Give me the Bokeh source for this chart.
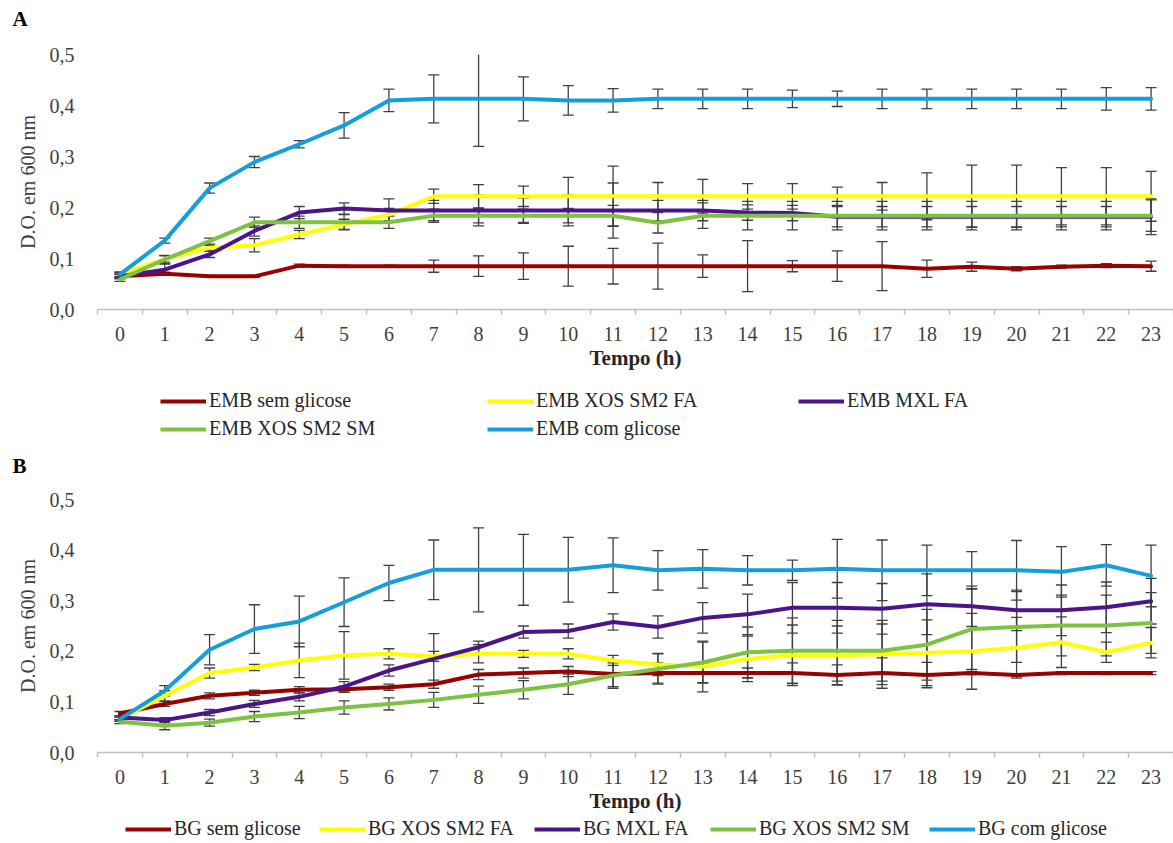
import numpy as np
from bokeh.plotting import figure
from bokeh.models import (ColumnDataSource, Whisker, TeeHead, FixedTicker, Legend,
                          LegendItem, Label, Range1d)
from bokeh.layouts import column
from bokeh.embed import file_html
from bokeh.resources import INLINE

# ---- data -------------------------------------------------------------
hours = list(range(24))
x_tick_labels = [str(h) for h in hours]
y_ticks = [0.0, 0.1, 0.2, 0.3, 0.4, 0.5]
y_tick_labels = ["0,0", "0,1", "0,2", "0,3", "0,4", "0,5"]

# Panel A: EMB medium
emb_names = ["EMB sem glicose", "EMB XOS SM2 FA", "EMB MXL FA", "EMB XOS SM2 SM", "EMB com glicose"]
emb_sem = [0.065, 0.070, 0.065, 0.065, 0.086, 0.085, 0.085, 0.085, 0.085, 0.085, 0.085, 0.085,
           0.085, 0.085, 0.085, 0.085, 0.085, 0.085, 0.080, 0.084, 0.080, 0.084, 0.086, 0.085]
emb_sem_err = [0.004, 0.003, 0.002, 0.002, 0.003, 0.002, 0.002, 0.012, 0.020, 0.026, 0.039, 0.035,
               0.045, 0.022, 0.050, 0.011, 0.030, 0.048, 0.017, 0.009, 0.004, 0.003, 0.004, 0.010]
emb_xos_fa = [0.068, 0.099, 0.121, 0.126, 0.147, 0.167, 0.186, 0.222, 0.222, 0.222, 0.222, 0.222,
              0.222, 0.222, 0.222, 0.222, 0.222, 0.222, 0.222, 0.222, 0.222, 0.222, 0.222, 0.222]
emb_xos_fa_err = [0.005, 0.006, 0.005, 0.013, 0.008, 0.010, 0.012, 0.014, 0.023, 0.020, 0.037, 0.059,
                  0.027, 0.033, 0.025, 0.025, 0.018, 0.027, 0.046, 0.061, 0.061, 0.056, 0.056, 0.049]
emb_mxl = [0.065, 0.078, 0.108, 0.154, 0.190, 0.198, 0.194, 0.194, 0.194, 0.194, 0.194, 0.194,
           0.194, 0.194, 0.190, 0.189, 0.182, 0.182, 0.182, 0.182, 0.182, 0.182, 0.182, 0.182]
emb_mxl_err = [0.005, 0.011, 0.006, 0.010, 0.012, 0.011, 0.023, 0.020, 0.030, 0.025, 0.030, 0.054,
               0.020, 0.020, 0.015, 0.015, 0.020, 0.020, 0.020, 0.020, 0.020, 0.020, 0.020, 0.035]
emb_xos_sm = [0.059, 0.098, 0.134, 0.171, 0.171, 0.171, 0.171, 0.184, 0.184, 0.184, 0.184, 0.184,
              0.170, 0.184, 0.184, 0.184, 0.184, 0.184, 0.184, 0.184, 0.184, 0.184, 0.184, 0.184]
emb_xos_sm_err = [0.004, 0.008, 0.006, 0.010, 0.012, 0.015, 0.012, 0.013, 0.014, 0.013, 0.014, 0.020,
                  0.020, 0.025, 0.028, 0.028, 0.028, 0.028, 0.028, 0.028, 0.028, 0.028, 0.028, 0.031]
emb_com = [0.069, 0.135, 0.238, 0.289, 0.324, 0.361, 0.410, 0.413, 0.413, 0.413, 0.410, 0.410,
           0.413, 0.413, 0.413, 0.413, 0.413, 0.413, 0.413, 0.413, 0.413, 0.413, 0.413, 0.413]
emb_com_err = [0.004, 0.005, 0.010, 0.011, 0.007, 0.025, 0.022, 0.047, 0.093, 0.043, 0.029, 0.023,
               0.019, 0.019, 0.019, 0.017, 0.015, 0.019, 0.019, 0.019, 0.019, 0.019, 0.022, 0.022]

# Panel B: BG medium
bg_names = ["BG sem glicose", "BG XOS SM2 FA", "BG MXL FA", "BG XOS SM2 SM", "BG com glicose"]
bg_sem = [0.077, 0.096, 0.112, 0.118, 0.124, 0.125, 0.129, 0.135, 0.154, 0.157, 0.160, 0.155,
          0.157, 0.157, 0.157, 0.157, 0.153, 0.157, 0.153, 0.157, 0.153, 0.157, 0.157, 0.157]
bg_sem_err = [0.004, 0.005, 0.006, 0.005, 0.006, 0.006, 0.006, 0.008, 0.010, 0.010, 0.010, 0.025,
              0.020, 0.020, 0.010, 0.020, 0.020, 0.030, 0.025, 0.003, 0.003, 0.003, 0.003, 0.003]
bg_xos_fa = [0.066, 0.112, 0.157, 0.168, 0.182, 0.192, 0.195, 0.190, 0.195, 0.195, 0.195, 0.182,
             0.174, 0.170, 0.185, 0.192, 0.192, 0.194, 0.197, 0.200, 0.207, 0.218, 0.198, 0.217]
bg_xos_fa_err = [0.004, 0.010, 0.010, 0.006, 0.034, 0.047, 0.010, 0.010, 0.018, 0.007, 0.010, 0.010,
                 0.022, 0.050, 0.045, 0.060, 0.058, 0.060, 0.065, 0.075, 0.060, 0.050, 0.020, 0.030]
bg_mxl = [0.069, 0.064, 0.079, 0.096, 0.110, 0.130, 0.162, 0.185, 0.208, 0.238, 0.240, 0.258,
          0.248, 0.266, 0.273, 0.286, 0.286, 0.284, 0.293, 0.289, 0.281, 0.281, 0.287, 0.299]
bg_mxl_err = [0.004, 0.005, 0.006, 0.007, 0.008, 0.010, 0.011, 0.050, 0.012, 0.012, 0.014, 0.016,
              0.022, 0.030, 0.040, 0.050, 0.050, 0.050, 0.060, 0.040, 0.040, 0.050, 0.050, 0.045]
bg_xos_sm = [0.061, 0.053, 0.059, 0.071, 0.079, 0.089, 0.096, 0.104, 0.114, 0.124, 0.135, 0.152,
             0.165, 0.178, 0.198, 0.201, 0.201, 0.201, 0.213, 0.244, 0.248, 0.251, 0.251, 0.256]
bg_xos_sm_err = [0.004, 0.008, 0.007, 0.010, 0.012, 0.013, 0.012, 0.015, 0.017, 0.018, 0.020, 0.025,
                 0.030, 0.040, 0.050, 0.065, 0.060, 0.060, 0.070, 0.080, 0.070, 0.060, 0.060, 0.060]
bg_com = [0.066, 0.122, 0.203, 0.244, 0.259, 0.297, 0.335, 0.361, 0.361, 0.361, 0.361, 0.370,
          0.360, 0.363, 0.360, 0.360, 0.363, 0.360, 0.360, 0.360, 0.360, 0.357, 0.370, 0.349]
bg_com_err = [0.004, 0.010, 0.030, 0.048, 0.050, 0.048, 0.035, 0.059, 0.083, 0.070, 0.064, 0.054,
              0.039, 0.038, 0.029, 0.020, 0.058, 0.060, 0.050, 0.037, 0.059, 0.050, 0.041, 0.061]

colors = ["#990000", "#FFFF00", "#4B148A", "#7DC242", "#149EDA"]

# ---- styling ----------------------------------------------------------
FONT = "Liberation Serif"
W = 1173
LEFT = 97
KEY_H = 22  # height of one legend entry


def panel(height, top, frame_h):
    p = figure(width=W, height=height, output_backend="svg", toolbar_location=None,
               title=None, x_range=Range1d(-0.5, 23.5), y_range=Range1d(0, 0.5),
               min_border_left=LEFT, min_border_right=0, min_border_top=top,
               min_border_bottom=height - top - frame_h)
    p.outline_line_color = None
    p.grid.visible = False

    # x axis: labels on the hours, small ticks between categories
    xa = p.xaxis[0]
    xa.ticker = FixedTicker(ticks=hours, minor_ticks=[h - 0.5 for h in hours] + [23.5])
    xa.major_label_overrides = {h: lab for h, lab in zip(hours, x_tick_labels)}
    xa.axis_line_color = "#BFBFBF"
    xa.axis_line_width = 1.5
    xa.major_tick_out = 0
    xa.major_tick_in = 0
    xa.minor_tick_out = 5
    xa.minor_tick_in = 0
    xa.minor_tick_line_color = "#BFBFBF"
    xa.minor_tick_line_width = 1.5
    xa.major_label_standoff = 12
    xa.major_label_text_font = FONT
    xa.major_label_text_font_size = "20px"
    xa.major_label_text_color = "#404040"
    xa.axis_label = "Tempo (h)"
    xa.axis_label_text_font = FONT
    xa.axis_label_text_font_size = "21px"
    xa.axis_label_text_font_style = "bold"
    xa.axis_label_text_color = "#262626"
    xa.axis_label_standoff = 2

    # y axis: no line, comma decimal labels
    ya = p.yaxis[0]
    ya.ticker = FixedTicker(ticks=y_ticks)
    ya.major_label_overrides = {t: lab for t, lab in zip(y_ticks, y_tick_labels)}
    ya.axis_line_color = None
    ya.major_tick_line_color = None
    ya.minor_tick_line_color = None
    ya.major_label_standoff = 17
    ya.major_label_text_font = FONT
    ya.major_label_text_font_size = "20px"
    ya.major_label_text_color = "#404040"
    ya.axis_label = "D.O. em 600 nm"
    ya.axis_label_text_font = FONT
    ya.axis_label_text_font_size = "20px"
    ya.axis_label_text_font_style = "normal"
    ya.axis_label_text_color = "#404040"
    ya.axis_label_standoff = 8
    return p


def draw_series(p, series, errors):
    for vals, errs, col in zip(series, errors, colors):
        src = ColumnDataSource(dict(x=hours, y=vals,
                                    upper=[v + e for v, e in zip(vals, errs)],
                                    lower=[v - e for v, e in zip(vals, errs)]))
        p.line("x", "y", source=src, line_color=col, line_width=4,
               line_join="round", line_cap="round")
        p.add_layout(Whisker(base="x", upper="upper", lower="lower", source=src,
                             line_color="#404040", line_width=1.3,
                             upper_head=TeeHead(size=11, line_color="#404040", line_width=1.3),
                             lower_head=TeeHead(size=11, line_color="#404040", line_width=1.3)))


def strip(height):
    # plain band (no axes) holding panel letters and legend keys
    f = figure(width=W, height=height, output_backend="svg", toolbar_location=None,
               title=None, x_range=Range1d(0, W), y_range=Range1d(0, height),
               min_border=0, x_axis_location=None, y_axis_location=None,
               frame_align=False)
    f.outline_line_color = None
    f.grid.visible = False
    return f


def add_letter(f, text, yc):
    f.add_layout(Label(x=12, y=f.height - yc, x_units="screen", y_units="screen",
                       text=text, text_font=FONT, text_font_size="21px",
                       text_font_style="bold", text_color="black",
                       text_align="left", text_baseline="middle"))


def add_key(f, name, color, x, yc):
    # swatch renderer with a single undefined point: shows only in the legend
    r = f.line(x=np.array([0.0]), y=np.array([np.nan]), line_color=color, line_width=4)
    f.add_layout(Legend(items=[LegendItem(label=name, renderers=[r])],
                        location=(x, f.height - yc - KEY_H / 2),
                        orientation="vertical", padding=0, margin=0, spacing=0,
                        glyph_width=46, glyph_height=KEY_H, label_height=KEY_H,
                        label_standoff=3, label_text_font=FONT,
                        label_text_font_size="20px", label_text_color="#262626",
                        border_line_color=None, background_fill_alpha=0))


emb_series = [emb_sem, emb_xos_fa, emb_mxl, emb_xos_sm, emb_com]
emb_errors = [emb_sem_err, emb_xos_fa_err, emb_mxl_err, emb_xos_sm_err, emb_com_err]
bg_series = [bg_sem, bg_xos_fa, bg_mxl, bg_xos_sm, bg_com]
bg_errors = [bg_sem_err, bg_xos_fa_err, bg_mxl_err, bg_xos_sm_err, bg_com_err]

# top band with letter A
head_a = strip(36)
add_letter(head_a, "A", 18)

# panel A
fig_a = panel(344, 18, 255)
draw_series(fig_a, emb_series, emb_errors)

# band with the EMB legend (3 + 2 entries) and the letter B
mid = strip(96)
emb_key_pos = [(160, 21), (487, 21), (798, 21), (160, 49), (487, 49)]
for name, col, (kx, ky) in zip(emb_names, colors, emb_key_pos):
    add_key(mid, name, col, kx, ky)
add_letter(mid, "B", 85)

# panel B
fig_b = panel(342, 23, 253)
draw_series(fig_b, bg_series, bg_errors)

# bottom band with the BG legend in one row
foot = strip(25)
bg_key_x = [125, 319, 534, 710, 929]
for name, col, kx in zip(bg_names, colors, bg_key_x):
    add_key(foot, name, col, kx, 11)

layout = column(head_a, fig_a, mid, fig_b, foot, spacing=0)
open("out.html", "w").write(file_html(layout, INLINE))
